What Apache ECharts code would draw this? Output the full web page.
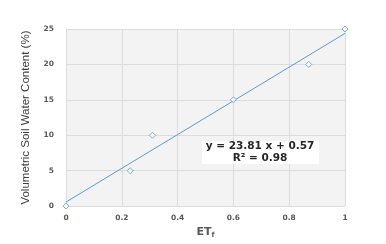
<!DOCTYPE html>
<html>
<head>
<meta charset="utf-8">
<script src="https://cdn.jsdelivr.net/npm/echarts@6/dist/echarts.min.js"></script>
<style>
  html, body { margin: 0; padding: 0; background: #fff; }
  #chart { width: 386px; height: 244px; }
</style>
</head>
<body>
<div id="chart"></div>
<script>
const etf = [0, 0.23, 0.31, 0.6, 0.87, 1];
const swc = [0, 5, 10, 15, 20, 25];
const trendX = [0, 1];
const trendY = [0.57, 24.38];
const xTicks = [0, 0.2, 0.4, 0.6, 0.8, 1];
const yTicks = [0, 5, 10, 15, 20, 25];

document.addEventListener('DOMContentLoaded', function() {
    const chart = echarts.init(document.getElementById('chart'));
    const tickColor = '#595959';
    const gridColor = '#dcdcdc';

    const option = {
        animation: false,
        grid: {
            left: 66,
            right: 41,
            top: 29,
            bottom: 37,
            show: true,
            backgroundColor: '#f3f3f3',
            borderWidth: 0
        },
        xAxis: {
            type: 'value',
            min: xTicks[0],
            max: xTicks[xTicks.length - 1],
            interval: 0.2,
            name: 'ET{sub|f}',
            nameLocation: 'middle',
            nameGap: 18,
            nameTextStyle: {
                color: tickColor,
                fontSize: 11,
                fontWeight: 'bold',
                fontFamily: 'DejaVu Sans',
                rich: {
                    sub: { fontSize: 7, fontWeight: 'bold', color: tickColor, verticalAlign: 'bottom', padding: [6, 0, 0, 0] }
                }
            },
            axisLine: { show: false },
            axisTick: { show: false },
            splitLine: { lineStyle: { color: gridColor, width: 1 } },
            axisLabel: {
                color: tickColor,
                fontSize: 7.5,
                fontWeight: 'bold',
                fontFamily: 'DejaVu Sans',
                margin: 8,
                formatter: function(v) { return String(Math.round(v * 10) / 10); }
            }
        },
        yAxis: {
            type: 'value',
            min: yTicks[0],
            max: yTicks[yTicks.length - 1],
            interval: 5,
            name: 'Volumetric Soil Water Content (%)',
            nameLocation: 'middle',
            nameGap: 34,
            nameTextStyle: {
                color: '#404040',
                fontSize: 11.5,
                fontFamily: 'Liberation Sans, sans-serif'
            },
            axisLine: { show: false },
            axisTick: { show: false },
            splitLine: { lineStyle: { color: gridColor, width: 1 } },
            axisLabel: {
                color: tickColor,
                fontSize: 7.5,
                fontWeight: 'bold',
                fontFamily: 'DejaVu Sans',
                margin: 12
            }
        },
        series: [
            {
                name: 'Trend',
                type: 'line',
                data: trendX.map(function(x, i) { return [x, trendY[i]]; }),
                symbol: 'none',
                lineStyle: { color: '#5b9bd5', width: 1 },
                z: 2
            },
            {
                name: 'Observed',
                type: 'scatter',
                data: etf.map(function(x, i) { return [x, swc[i]]; }),
                symbol: 'diamond',
                symbolSize: 6,
                itemStyle: { color: '#ffffff', borderColor: '#5b9bd5', borderWidth: 1 },
                z: 3
            }
        ],
        graphic: [
            {
                type: 'rect',
                shape: { x: 202, y: 141, width: 117, height: 23 },
                style: { fill: '#ffffff' },
                z: 10
            },
            {
                type: 'text',
                x: 260,
                y: 152.5,
                z: 11,
                style: {
                    text: 'y = 23.81 x + 0.57\nR² = 0.98',
                    fill: '#262626',
                    font: 'bold 10.5px DejaVu Sans',
                    align: 'center',
                    verticalAlign: 'middle',
                    lineHeight: 11.5
                }
            }
        ]
    };

    chart.setOption(option);

    window.addEventListener('resize', function() {
        chart.resize();
    });
});
</script>
</body>
</html>
